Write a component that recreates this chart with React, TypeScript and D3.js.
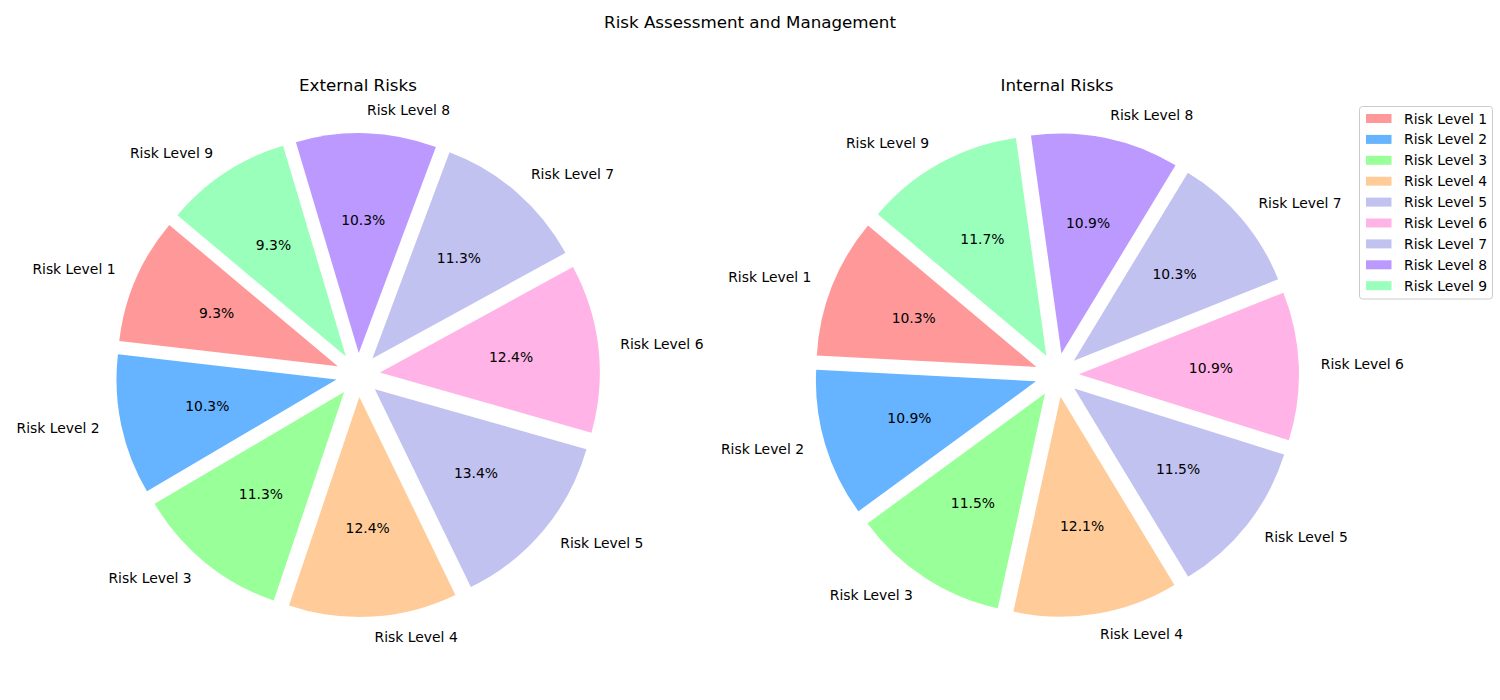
import React from "react";
import * as d3 from "d3";

const categories = [
  "Risk Level 1", "Risk Level 2", "Risk Level 3", "Risk Level 4", "Risk Level 5",
  "Risk Level 6", "Risk Level 7", "Risk Level 8", "Risk Level 9",
];
const externalValues = [9, 10, 11, 12, 13, 12, 11, 10, 9];
const internalValues = [17, 18, 19, 20, 19, 18, 17, 18, 19.3];
const colors = [
  "#ff9999", "#66b3ff", "#99ff99", "#ffcc99", "#c2c2f0",
  "#ffb3e6", "#c2c2f0", "#bb99ff", "#99ffbb",
];
const chartTitle = "Risk Assessment and Management";
const panelTitles = ["External Risks", "Internal Risks"];

const W = 1500;
const H = 700;
const R = 220;
const CY = 375;
const CXS = [358, 1057];
const START_DEG = 140;
const EXPLODE = 0.1;
const FONT = "'DejaVu Sans', Verdana, sans-serif";
const LABEL_SIZE = 13.9;

function PiePanel({ values, cx, title }: { values: number[]; cx: number; title: string }) {
  const total = d3.sum(values);
  const a0 = Math.PI / 2 - (START_DEG * Math.PI) / 180;
  const pie = d3
    .pie<number>()
    .sort(null)
    .value((d) => d)
    .startAngle(a0)
    .endAngle(a0 - 2 * Math.PI);
  const arcs = pie(values);
  const arcGen = d3.arc<d3.PieArcDatum<number>>().innerRadius(0).outerRadius(R);

  return (
    <g>
      <text
        x={cx}
        y={91}
        textAnchor="middle"
        fontFamily={FONT}
        fontSize={16.7}
        fill="#000"
      >
        {title}
      </text>
      {arcs.map((a, i) => {
        const mid = (a.startAngle + a.endAngle) / 2;
        const ux = Math.sin(mid);
        const uy = -Math.cos(mid);
        const ox = cx + EXPLODE * R * ux;
        const oy = CY + EXPLODE * R * uy;
        const lx = ox + 1.1 * R * ux;
        const ly = oy + 1.1 * R * uy;
        const px = ox + 0.6 * R * ux;
        const py = oy + 0.6 * R * uy;
        const pct = ((values[i] / total) * 100).toFixed(1) + "%";
        return (
          <g key={i}>
            <path d={arcGen(a) || ""} transform={`translate(${ox},${oy})`} fill={colors[i]} />
            <text
              x={px}
              y={py - 1}
              textAnchor="middle"
              dominantBaseline="central"
              fontFamily={FONT}
              fontSize={LABEL_SIZE}
              fill="#000"
            >
              {pct}
            </text>
            <text
              x={lx}
              y={ly - 1.5}
              textAnchor={ux >= 0 ? "start" : "end"}
              dominantBaseline="central"
              fontFamily={FONT}
              fontSize={LABEL_SIZE}
              fill="#000"
            >
              {categories[i]}
            </text>
          </g>
        );
      })}
    </g>
  );
}

export default function App() {
  const legendX = 1359.5;
  const legendY = 106.5;
  const rowH = 20.9;
  const legendW = 133;
  const legendH = 192.5;
  return (
    <svg
      width={W}
      height={H}
      style={{ position: "absolute", left: 0, top: 0, background: "#fff" }}
    >
      <rect x={0} y={0} width={W} height={H} fill="#fff" />
      <text x={750} y={28} textAnchor="middle" fontFamily={FONT} fontSize={16.7} fill="#000">
        {chartTitle}
      </text>
      <PiePanel values={externalValues} cx={CXS[0]} title={panelTitles[0]} />
      <PiePanel values={internalValues} cx={CXS[1]} title={panelTitles[1]} />
      <g>
        <rect
          x={legendX}
          y={legendY}
          width={legendW}
          height={legendH}
          rx={3}
          fill="#fff"
          fillOpacity={0.8}
          stroke="#cccccc"
          strokeWidth={1}
        />
        {categories.map((c, i) => {
          const yc = legendY + 12 + i * rowH;
          return (
            <g key={c}>
              <rect x={legendX + 6.5} y={yc - 4.5} width={25.5} height={9} fill={colors[i]} />
              <text
                x={legendX + 44.5}
                y={yc}
                dominantBaseline="central"
                fontFamily={FONT}
                fontSize={LABEL_SIZE}
                fill="#000"
              >
                {c}
              </text>
            </g>
          );
        })}
      </g>
    </svg>
  );
}
